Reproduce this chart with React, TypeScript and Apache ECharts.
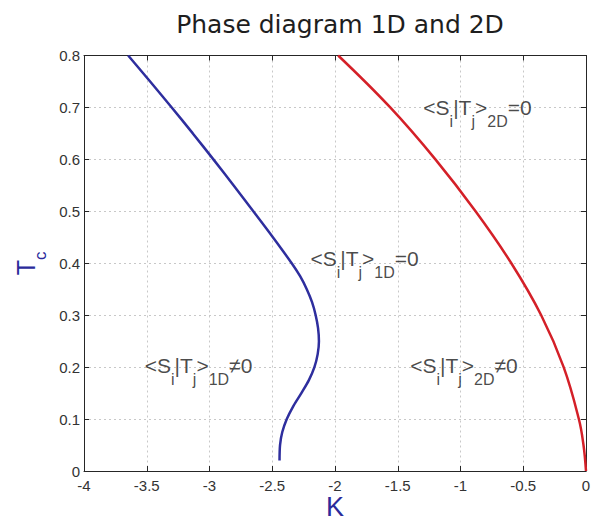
import React, { useEffect, useRef } from "react";
import * as echarts from "echarts";

// Tick values
const kTicks = [-4, -3.5, -3, -2.5, -2, -1.5, -1, -0.5, 0];
const tTicks = [0, 0.1, 0.2, 0.3, 0.4, 0.5, 0.6, 0.7, 0.8];

// 1D critical line (blue)
const blue1DK = [-3.648, -3.473, -3.301, -3.133, -2.969, -2.809, -2.651, -2.495, -2.345, -2.278, -2.225, -2.183, -2.154, -2.135, -2.128, -2.138, -2.164, -2.208, -2.268, -2.332, -2.384, -2.42, -2.438, -2.442];
const blue1DT = [0.8, 0.75, 0.7, 0.65, 0.6, 0.55, 0.5, 0.45, 0.4, 0.375, 0.35, 0.325, 0.3, 0.275, 0.25, 0.225, 0.2, 0.175, 0.15, 0.125, 0.1, 0.075, 0.05, 0.02];

// 2D critical line (red)
const red2DK = [-1.975, -1.56, -1.2, -0.88, -0.595, -0.357, -0.178, -0.057, -0.02, 0];
const red2DT = [0.8, 0.7, 0.6, 0.5, 0.4, 0.3, 0.2, 0.1, 0.05, 0];

// Region annotations
const noteK = [-1.3, -2.2, -3.52, -1.405];
const noteT = [0.7, 0.409, 0.203, 0.203];
const noteText = [
  "{m|<S}{s|i}{m||T}{s|j}{m|>}{s|2D}{m|=0}",
  "{m|<S}{s|i}{m||T}{s|j}{m|>}{s|1D}{m|=0}",
  "{m|<S}{s|i}{m||T}{s|j}{m|>}{s|1D}{m|≠0}",
  "{m|<S}{s|i}{m||T}{s|j}{m|>}{s|2D}{m|≠0}",
];

const TITLEFONT = "DejaVu Sans";
const FONT = "Liberation Sans";
const AXISCOLOR = "#262626";
const NAMECOLOR = "#2b2b9b";

export default function App() {
  const ref = useRef<HTMLDivElement>(null);
  useEffect(() => {
    if (!ref.current) return;
    const chart = echarts.init(ref.current, undefined, { renderer: "svg" });
    const kMin = kTicks[0];
    const kMax = kTicks[kTicks.length - 1];
    const kInt = kTicks[1] - kTicks[0];
    const tMin = tTicks[0];
    const tMax = tTicks[tTicks.length - 1];
    const tInt = Math.round((tTicks[1] - tTicks[0]) * 1000) / 1000;

    const frameAxis = {
      axisLine: { show: true, onZero: false, lineStyle: { color: AXISCOLOR, width: 1 } },
      axisTick: { show: true, inside: true, length: 5, lineStyle: { color: AXISCOLOR } },
      axisLabel: { show: false },
      splitLine: { show: false },
    };

    chart.setOption({
      animation: false,
      backgroundColor: "#ffffff",
      title: {
        text: "Phase diagram 1D and 2D",
        left: 335,
        top: 7,
        textAlign: "center",
        textStyle: { fontFamily: TITLEFONT, fontSize: 25, fontWeight: "normal", color: "#1e1e1e" },
      },
      grid: { left: 84, right: 5, top: 55.5, bottom: 50, containLabel: false, outerBoundsMode: "none" },
      xAxis: [
        {
          type: "value",
          min: kMin,
          max: kMax,
          interval: kInt,
          position: "bottom",
          name: "K",
          nameLocation: "middle",
          nameGap: 27,
          nameMoveOverlap: false,
          nameTextStyle: { fontFamily: FONT, fontSize: 27, lineHeight: 18, color: NAMECOLOR },
          axisLine: { show: true, onZero: false, lineStyle: { color: AXISCOLOR, width: 1 } },
          axisTick: { show: true, inside: true, length: 5, lineStyle: { color: AXISCOLOR } },
          axisLabel: { fontFamily: FONT, fontSize: 15, lineHeight: 16, color: "#333", margin: 6 },
          splitLine: { show: true, lineStyle: { color: "#c8c8c8", type: [2, 3], width: 1 } },
        },
        { type: "value", min: kMin, max: kMax, interval: kInt, position: "top", ...frameAxis },
      ],
      yAxis: [
        {
          type: "value",
          min: tMin,
          max: tMax,
          interval: tInt,
          position: "left",
          name: "{m|T}{s|c}",
          nameLocation: "middle",
          nameRotate: 90,
          nameGap: 43,
          nameMoveOverlap: false,
          nameTextStyle: {
            color: NAMECOLOR,
            rich: {
              m: { fontFamily: FONT, fontSize: 25, lineHeight: 30, color: NAMECOLOR },
              s: { fontFamily: FONT, fontSize: 17, lineHeight: 20, padding: [28, 0, 0, 0], color: NAMECOLOR },
            },
          },
          axisLine: { show: true, onZero: false, lineStyle: { color: AXISCOLOR, width: 1 } },
          axisTick: { show: true, inside: true, length: 5, lineStyle: { color: AXISCOLOR } },
          axisLabel: { fontFamily: FONT, fontSize: 15, color: "#333", margin: 4 },
          splitLine: { show: true, lineStyle: { color: "#c8c8c8", type: [2, 3], width: 1 } },
        },
        { type: "value", min: tMin, max: tMax, interval: tInt, position: "right", ...frameAxis },
      ],
      series: [
        {
          name: "1D",
          type: "line",
          data: blue1DK.map((k, i) => [k, blue1DT[i]]),
          showSymbol: false,
          smooth: 0.3,
          lineStyle: { color: "#2e2e9e", width: 2.5 },
          z: 3,
        },
        {
          name: "2D",
          type: "line",
          data: red2DK.map((k, i) => [k, red2DT[i]]),
          showSymbol: false,
          smooth: 0.4,
          lineStyle: { color: "#d42028", width: 2.5 },
          z: 3,
        },
        {
          name: "notes",
          type: "scatter",
          symbolSize: 1,
          itemStyle: { color: "rgba(0,0,0,0)" },
          silent: true,
          data: noteK.map((k, i) => ({ value: [k, noteT[i]], label: { formatter: noteText[i] } })),
          label: {
            show: true,
            position: "right",
            distance: 0,
            color: "#1a1a1a",
            rich: {
              m: { fontFamily: FONT, fontSize: 21, lineHeight: 26, color: "#1a1a1a" },
              s: { fontFamily: FONT, fontSize: 16, lineHeight: 20, padding: [28, 0, 0, 0], color: "#1a1a1a" },
            },
          },
          z: 4,
        },
      ],
    });
    return () => chart.dispose();
  }, []);
  return (
    <div
      ref={ref}
      style={{ position: "fixed", left: 0, top: 0, width: 591, height: 521, background: "#fff" }}
    />
  );
}
